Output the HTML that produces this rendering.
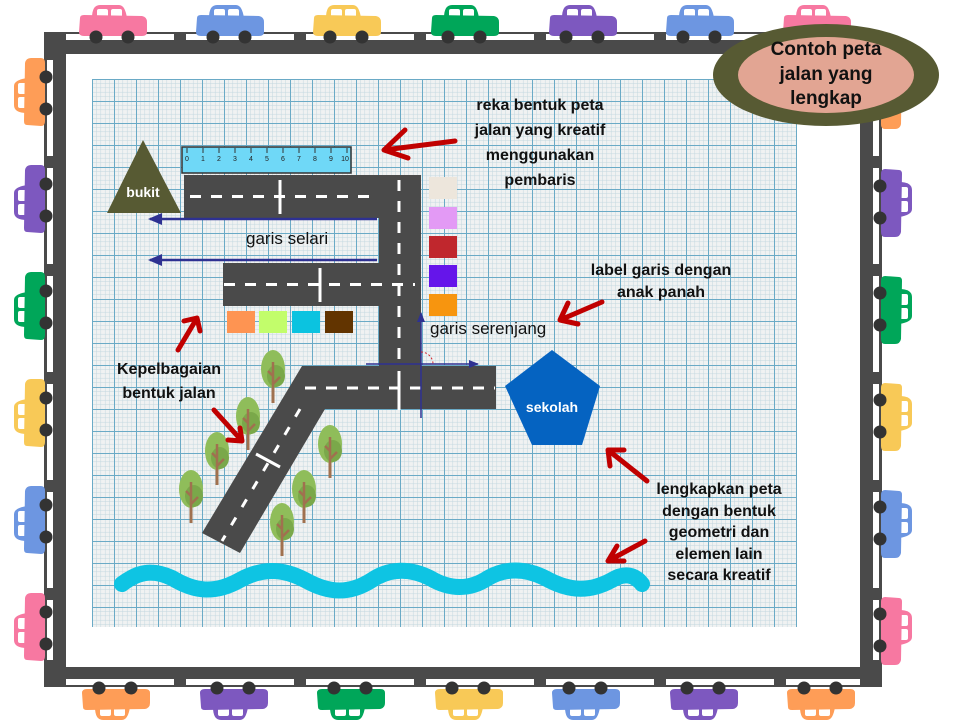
<!DOCTYPE html>
<html><head><meta charset="utf-8"><style>
html,body{margin:0;padding:0;background:#fff;}
svg{display:block;}
text{font-family:"Liberation Sans",sans-serif;}
.b{font-weight:bold;font-size:16px;fill:#111;text-anchor:middle;}
</style></head><body>
<svg width="960" height="720" viewBox="0 0 960 720" xmlns="http://www.w3.org/2000/svg">
<defs>
<pattern id="grid" x="92" y="79" width="22" height="22" patternUnits="userSpaceOnUse">
<rect width="22" height="22" fill="#f0f2f2"/>
<path d="M4.4 0V22M8.8 0V22M13.2 0V22M17.6 0V22M0 4.4H22M0 8.8H22M0 13.2H22M0 17.6H22" stroke="#c3d8e0" stroke-width="0.5"/>
<path d="M0.5 0V22M0 0.5H22" stroke="#6aaac6" stroke-width="1"/>
</pattern>
<g id="car">
<path d="M14 14 Q14 1 22 1 H41 Q47 1 49 14 Z" fill="currentColor"/>
<rect x="19" y="5" width="11" height="10" rx="2" fill="#fff"/>
<rect x="33" y="5" width="11" height="10" rx="2" fill="#fff"/>
<path d="M2 14 Q2 11 6 11 L64 12 Q69 13 69 18 V28 Q69 32 64 32 H6 Q1 32 1 28 Z" fill="currentColor"/>
<circle cx="18" cy="33" r="6.5" fill="#333"/>
<circle cx="50" cy="33" r="6.5" fill="#333"/>
</g>
<g id="tree">
<path d="M0 30V53" stroke="#a0714f" stroke-width="3" fill="none"/>
<ellipse cx="0" cy="19" rx="12" ry="19" fill="#8fbd5a"/>
<ellipse cx="3" cy="26" rx="9" ry="11" fill="#7aa84a"/>
<path d="M0 12V53M0 34L7 27M0 26L-5 21" stroke="#a0714f" stroke-width="2.5" fill="none"/>
</g>
<marker id="bh" markerWidth="14" markerHeight="12" refX="12" refY="6" orient="auto" markerUnits="userSpaceOnUse"><path d="M0 0L14 6L0 12Z" fill="#2e3192"/></marker>
<marker id="sh" markerWidth="10" markerHeight="8" refX="9" refY="4" orient="auto" markerUnits="userSpaceOnUse"><path d="M0 0L10 4L0 8Z" fill="#2e3192"/></marker>
</defs>

<rect x="44" y="32" width="838" height="655" fill="#4a4a4a"/>
<rect x="66" y="54" width="794" height="613" fill="#fff"/>
<path d="M66 37H860M66 682H860" stroke="#fff" stroke-width="6" stroke-dasharray="108 12"/>
<path d="M50 60V660M876 60V660" stroke="#fff" stroke-width="6" stroke-dasharray="96 12"/>

<rect x="92" y="79" width="705" height="548" fill="url(#grid)"/>

<use href="#car" transform="translate(78,4)" style="color:#f778a1"/>
<use href="#car" transform="translate(195,4)" style="color:#6d96e1"/>
<use href="#car" transform="translate(312,4)" style="color:#f8c957"/>
<use href="#car" transform="translate(430,4)" style="color:#00a659"/>
<use href="#car" transform="translate(548,4)" style="color:#7d58bf"/>
<use href="#car" transform="translate(665,4)" style="color:#6d96e1"/>
<use href="#car" transform="translate(782,4)" style="color:#f778a1"/>
<use href="#car" transform="translate(81,721) scale(1,-1)" style="color:#fe9d57"/>
<use href="#car" transform="translate(199,721) scale(1,-1)" style="color:#7d58bf"/>
<use href="#car" transform="translate(316,721) scale(1,-1)" style="color:#00a659"/>
<use href="#car" transform="translate(434,721) scale(1,-1)" style="color:#f8c957"/>
<use href="#car" transform="translate(551,721) scale(1,-1)" style="color:#6d96e1"/>
<use href="#car" transform="translate(669,721) scale(1,-1)" style="color:#7d58bf"/>
<use href="#car" transform="translate(786,721) scale(1,-1)" style="color:#fe9d57"/>
<use href="#car" transform="translate(13,127) rotate(-90)" style="color:#fe9d57"/>
<use href="#car" transform="translate(13,234) rotate(-90)" style="color:#7d58bf"/>
<use href="#car" transform="translate(13,341) rotate(-90)" style="color:#00a659"/>
<use href="#car" transform="translate(13,448) rotate(-90)" style="color:#f8c957"/>
<use href="#car" transform="translate(13,555) rotate(-90)" style="color:#6d96e1"/>
<use href="#car" transform="translate(13,662) rotate(-90)" style="color:#f778a1"/>
<use href="#car" transform="translate(913,60) rotate(90)" style="color:#fe9d57"/>
<use href="#car" transform="translate(913,168) rotate(90)" style="color:#7d58bf"/>
<use href="#car" transform="translate(913,275) rotate(90)" style="color:#00a659"/>
<use href="#car" transform="translate(913,382) rotate(90)" style="color:#f8c957"/>
<use href="#car" transform="translate(913,489) rotate(90)" style="color:#6d96e1"/>
<use href="#car" transform="translate(913,596) rotate(90)" style="color:#f778a1"/>

<ellipse cx="826" cy="75" rx="113" ry="51" fill="#575a33"/>
<ellipse cx="826" cy="75" rx="88" ry="38" fill="#e2a593"/>
<g font-weight="bold" font-size="19" text-anchor="middle" fill="#111">
<text x="826" y="55">Contoh peta</text>
<text x="826" y="80">jalan yang</text>
<text x="826" y="104">lengkap</text>
</g>

<rect x="182" y="147" width="169" height="26" fill="#6fd8f7" stroke="#333" stroke-width="1.5"/>
<path d="M187 148V153M203 148V153M219 148V153M235 148V153M251 148V153M267 148V153M283 148V153M299 148V153M315 148V153M331 148V153M347 148V153" stroke="#333" stroke-width="1"/>
<g font-size="7" fill="#222" text-anchor="middle">
<text x="187" y="161">0</text><text x="203" y="161">1</text><text x="219" y="161">2</text><text x="235" y="161">3</text><text x="251" y="161">4</text><text x="267" y="161">5</text><text x="283" y="161">6</text><text x="299" y="161">7</text><text x="315" y="161">8</text><text x="331" y="161">9</text><text x="345" y="161">10</text>
</g>

<polygon points="143,140 181,213 107,213" fill="#575a33"/>
<text x="143" y="197" font-weight="bold" font-size="14" fill="#fff" text-anchor="middle">bukit</text>

<g fill="#4a4a4a">
<rect x="184" y="175" width="237" height="43"/>
<rect x="379" y="175" width="42" height="191"/>
<rect x="223" y="263" width="198" height="43"/>
<polygon points="302,366 496,366 496,409 325,409 240,553 202,533"/>
</g>
<g stroke="#fff" stroke-width="3" fill="none">
<path d="M190 196.5H375" stroke-dasharray="11 10"/>
<path d="M280 180V214M320 268V302M399 410V371"/>
<path d="M399 180V360" stroke-dasharray="11 10"/>
<path d="M224 284.5H415" stroke-dasharray="11 10"/>
<path d="M305 388H495" stroke-dasharray="11 10"/>
<path d="M300 409L222 541" stroke-dasharray="9 12"/>
<path d="M256 454L280 467"/>
</g>

<rect x="429" y="177" width="28" height="22" fill="#ede6dc"/>
<rect x="429" y="207" width="28" height="22" fill="#e39af5"/>
<rect x="429" y="236" width="28" height="22" fill="#c0272d"/>
<rect x="429" y="265" width="28" height="22" fill="#6515ea"/>
<rect x="429" y="294" width="28" height="22" fill="#f7950f"/>
<rect x="227" y="311" width="28" height="22" fill="#fe9452"/>
<rect x="259" y="311" width="28" height="22" fill="#c2fd6b"/>
<rect x="292" y="311" width="28" height="22" fill="#0bc3e0"/>
<rect x="325" y="311" width="28" height="22" fill="#623400"/>

<path d="M377 219H150" stroke="#2e3192" stroke-width="2.5" marker-end="url(#bh)"/>
<path d="M377 260H150" stroke="#2e3192" stroke-width="2.5" marker-end="url(#bh)"/>
<text x="246" y="244" font-size="17" fill="#111">garis selari</text>
<path d="M421 418V313" stroke="#2e3192" stroke-width="1.5" marker-end="url(#sh)"/>
<path d="M366 364H478" stroke="#2e3192" stroke-width="1.5" marker-end="url(#sh)"/>
<path d="M421 352 A12 12 0 0 1 433 364" stroke="#d0202a" stroke-width="1" stroke-dasharray="2 2" fill="none"/>
<text x="430" y="334" font-size="17" fill="#111">garis serenjang</text>

<polygon points="552,350 600,386 582,445 532,445 505,386" fill="#0563c1"/>
<text x="552" y="412" font-weight="bold" font-size="14" fill="#fff" text-anchor="middle">sekolah</text>

<use href="#tree" transform="translate(273,350)"/>
<use href="#tree" transform="translate(248,397)"/>
<use href="#tree" transform="translate(217,432)"/>
<use href="#tree" transform="translate(191,470)"/>
<use href="#tree" transform="translate(330,425)"/>
<use href="#tree" transform="translate(304,470)"/>
<use href="#tree" transform="translate(282,503)"/>

<path d="M122 584 C140 570 155 570 172 578 C195 592 215 594 240 580 C262 568 282 568 305 580 C330 594 350 594 372 580 C390 568 410 568 430 578 C450 590 470 590 488 578 C505 568 525 568 545 578 C570 592 590 592 612 580 C625 572 635 575 642 584" stroke="#0ec4e3" stroke-width="16" stroke-linecap="round" fill="none"/>

<g stroke="#c00000" stroke-width="5" stroke-linecap="round" stroke-linejoin="round" fill="none">
<path d="M455 141 L384 150 M405 130 L384 150 L408 158"/>
<path d="M602 302 L560 320 M568 303 L560 320 L578 324"/>
<path d="M178 350 L197 318 M184 321 L197 318 L200 331"/>
<path d="M214 410 L242 441 M228 440 L242 441 L240 428"/>
<path d="M647 481 L608 450 M610 466 L608 450 L624 450"/>
<path d="M645 541 L608 561 M617 546 L608 561 L624 561"/>
</g>

<text class="b" x="540" y="110">reka bentuk peta</text>
<text class="b" x="540" y="135">jalan yang kreatif</text>
<text class="b" x="540" y="160">menggunakan</text>
<text class="b" x="540" y="185">pembaris</text>
<text class="b" x="661" y="275">label garis dengan</text>
<text class="b" x="661" y="297">anak panah</text>
<text class="b" x="169" y="374">Kepelbagaian</text>
<text class="b" x="169" y="398">bentuk jalan</text>
<text class="b" x="719" y="494">lengkapkan peta</text>
<text class="b" x="719" y="516">dengan bentuk</text>
<text class="b" x="719" y="537">geometri dan</text>
<text class="b" x="719" y="559">elemen lain</text>
<text class="b" x="719" y="580">secara kreatif</text>
</svg>
</body></html>
